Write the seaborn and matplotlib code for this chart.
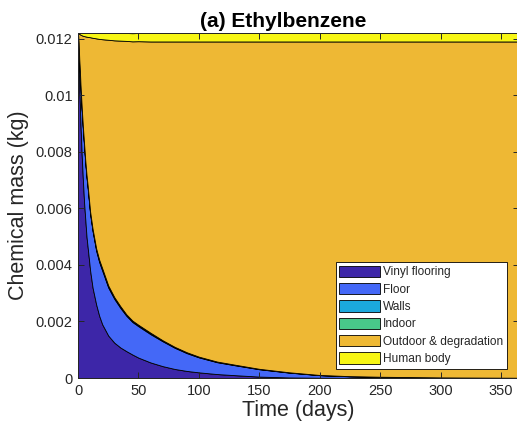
import numpy as np
import matplotlib
matplotlib.use("Agg")
import matplotlib.pyplot as plt
from matplotlib.ticker import FuncFormatter
from matplotlib.patches import Patch
import seaborn as sns

# time axis (days) and mass in each compartment (kg)
days = [0, 0.5, 1, 1.5, 2, 3, 4, 5, 6, 7, 8, 10, 12, 15, 17.5, 20, 25, 30,
        35, 40, 45, 50, 60, 70, 80, 90, 100, 115, 130, 150, 175, 200, 225,
        250, 300, 365]
vinyl = [0.0122, 0.0113, 0.0104, 0.0097, 0.0090, 0.0079, 0.0070, 0.0062,
         0.0056, 0.0050, 0.0046, 0.0038, 0.0032, 0.0026, 0.0022, 0.0019,
         0.0015, 0.00125, 0.00108, 0.00095, 0.00083, 0.00072, 0.00055,
         0.00042, 0.00032, 0.00025, 0.0002, 0.00014, 0.0001, 0.00005,
         0.00002, 0.00001, 0.000006, 0.000004, 0.000002, 0.000001]
floor = [0.0, 0.0005, 0.0008, 0.0011, 0.0013, 0.0016, 0.0018, 0.0020,
         0.0020, 0.0021, 0.0021, 0.0020, 0.0020, 0.0019, 0.0019, 0.0019,
         0.0017, 0.00155, 0.0014, 0.00125, 0.00115, 0.00111, 0.001,
         0.00088, 0.00075, 0.00063, 0.00053, 0.00042, 0.00035, 0.00026,
         0.00017, 0.00009, 0.000054, 0.000036, 0.000016, 0.000007]
walls = [0.0, 0.00003, 0.00004, 0.00005, 0.00005, 0.00005, 0.00005, 0.00005,
         0.00005, 0.00005, 0.00005, 0.00005, 0.00005, 0.00005, 0.00005,
         0.00005, 0.00004, 0.00004, 0.00004, 0.00003, 0.00003, 0.00003,
         0.00003, 0.00002, 0.00002, 0.00002, 0.000015, 0.000013, 0.000012,
         0.00001, 0.000007, 0.000005, 0.000004, 0.000003, 0.000002, 0.000001]
indoor = [0.0, 0.00002, 0.00003, 0.00003, 0.00003, 0.00003, 0.00003, 0.00003,
          0.00003, 0.00003, 0.00003, 0.00003, 0.00003, 0.00003, 0.00003,
          0.00003, 0.00003, 0.00002, 0.00002, 0.00002, 0.00002, 0.00002,
          0.00002, 0.000015, 0.000012, 0.00001, 0.00001, 0.000009, 0.000008,
          0.000005, 0.000004, 0.000003, 0.000002, 0.000002, 0.000001, 0.000001]
outdoor = [0.0, 0.000335, 0.0009, 0.001275, 0.00176, 0.00254, 0.00322,
           0.00381, 0.0044, 0.00489, 0.00528, 0.00617, 0.00675, 0.00743,
           0.00781, 0.0081, 0.00869, 0.00908, 0.00939, 0.00967, 0.009875,
           0.01003, 0.0103, 0.010565, 0.010798, 0.01099, 0.011145, 0.011318,
           0.01143, 0.011575, 0.011699, 0.011792, 0.011834, 0.011855,
           0.011879, 0.01189]
body = [0.0, 0.000015, 0.00003, 0.000045, 0.00006, 0.00008, 0.0001, 0.00011,
        0.00012, 0.00013, 0.00014, 0.00015, 0.00017, 0.00019, 0.00021,
        0.00022, 0.00024, 0.00026, 0.00027, 0.00028, 0.000285, 0.00029,
        0.0003, 0.0003, 0.0003, 0.0003, 0.0003, 0.0003, 0.0003, 0.0003,
        0.0003, 0.0003, 0.0003, 0.0003, 0.0003, 0.0003]

labels = ["Vinyl flooring", "Floor", "Walls", "Indoor",
          "Outdoor & degradation", "Human body"]
colors = ["#3d26a8", "#4468f7", "#1ba9dc", "#48c98a", "#eeb834", "#f7f614"]

sns.set_theme(style="ticks")
plt.rcParams["font.family"] = ["Liberation Sans", "DejaVu Sans"]
plt.rcParams["axes.edgecolor"] = "#262626"
plt.rcParams["xtick.color"] = "#262626"
plt.rcParams["ytick.color"] = "#262626"

fig = plt.figure(figsize=(5.17, 4.34), dpi=100)
ax = fig.add_axes([0.151, 0.129, 0.853, 0.795])

ax.stackplot(days, vinyl, floor, walls, indoor, outdoor, body,
             colors=colors, edgecolor="black", linewidth=0.6)
ax.set_axisbelow(False)

ax.set_xlim(0, 365)
ax.set_ylim(0, 0.0122)
ax.set_xticks(np.arange(0, 351, 50))
ax.set_yticks(np.arange(0, 0.0121, 0.002))
ax.yaxis.set_major_formatter(FuncFormatter(lambda v, p: f"{v:g}" if v > 1e-9 else "0"))
ax.tick_params(direction="in", length=4, width=0.7, labelsize=10.5,
               top=True, right=True, pad=4)
for s in ax.spines.values():
    s.set_linewidth(0.7)

ax.set_xlabel("Time (days)", fontsize=15.5, color="#262626", labelpad=2)
ax.set_ylabel("Chemical mass (kg)", fontsize=15.5, color="#262626", labelpad=5)
ax.set_title("(a) Ethylbenzene", fontsize=15, fontweight="bold", color="black",
             x=0.465, pad=4)

handles = [Patch(facecolor=c, edgecolor="black", linewidth=0.6) for c in colors]
leg = ax.legend(handles, labels, loc="lower right", bbox_to_anchor=(0.972, 0.027),
                borderaxespad=0, fontsize=8.6, frameon=True, fancybox=False,
                framealpha=1, edgecolor="black", handlelength=3.4,
                handleheight=1.1, handletextpad=0.25, labelspacing=0.38,
                borderpad=0.3)
leg.get_frame().set_linewidth(0.6)

fig.savefig("out.png", dpi=100)
